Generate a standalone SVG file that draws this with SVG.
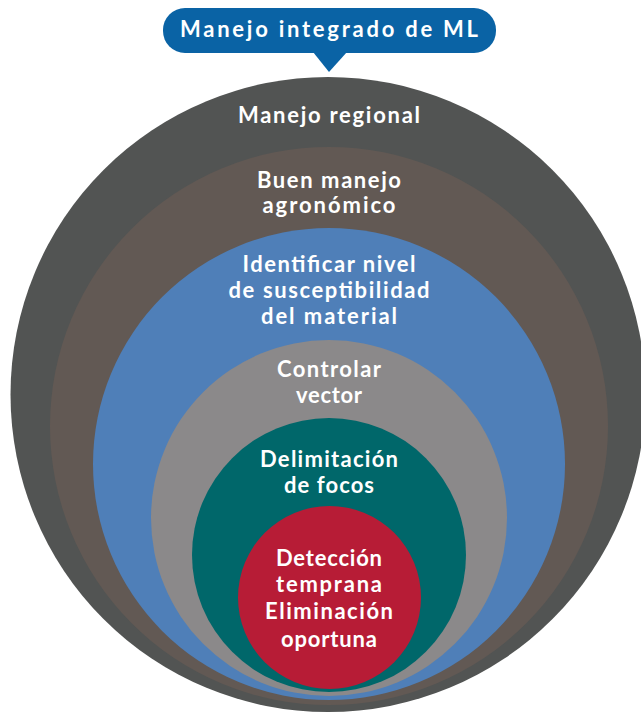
<svg xmlns="http://www.w3.org/2000/svg" width="641" height="713" viewBox="0 0 641 713">
<style>
text{font-family:Lato,"Open Sans","Liberation Sans",sans-serif;font-weight:700;font-size:22px;fill:#ffffff;text-anchor:middle}
</style>
<rect width="641" height="713" fill="#ffffff"/>
<g id="c1"><circle cx="328" cy="394.5" r="317.5" fill="#525453"/><text x="329" y="123" textLength="182" lengthAdjust="spacing">Manejo regional</text></g>
<g id="c2"><circle cx="329" cy="426" r="279" fill="#625954"/><text x="329" y="188" textLength="144" lengthAdjust="spacing">Buen manejo</text><text x="329" y="213" textLength="133" lengthAdjust="spacing">agronómico</text></g>
<g id="c3"><circle cx="329" cy="464" r="236" fill="#4f7fb8"/><text x="329" y="272" textLength="173" lengthAdjust="spacing">Identificar nivel</text><text x="329" y="298" textLength="201" lengthAdjust="spacing">de susceptibilidad</text><text x="329" y="324" textLength="136" lengthAdjust="spacing">del material</text></g>
<g id="c4"><circle cx="329" cy="518" r="178" fill="#8b898a"/><text x="329" y="377" textLength="104" lengthAdjust="spacing">Controlar</text><text x="329" y="403" textLength="66" lengthAdjust="spacing">vector</text></g>
<g id="c5"><circle cx="329" cy="555" r="137" fill="#00676a"/><text x="329" y="467" textLength="138" lengthAdjust="spacing">Delimitación</text><text x="329" y="493" textLength="90" lengthAdjust="spacing">de focos</text></g>
<g id="c6"><circle cx="329.5" cy="597.5" r="91.5" fill="#b71c36"/><text x="329" y="566" textLength="106" lengthAdjust="spacing">Detección</text><text x="329" y="592" textLength="106" lengthAdjust="spacing">temprana</text><text x="329" y="619" textLength="128" lengthAdjust="spacing">Eliminación</text><text x="329" y="647" textLength="96" lengthAdjust="spacing">oportuna</text></g>
<g id="title"><rect x="163" y="8" width="333" height="45" rx="22" fill="#0a63a5"/><polygon points="313,52 347,52 329,72" fill="#0a63a5"/><text x="329" y="37" textLength="298" lengthAdjust="spacing">Manejo integrado de ML</text></g>
<g id="connectors"></g>
</svg>
